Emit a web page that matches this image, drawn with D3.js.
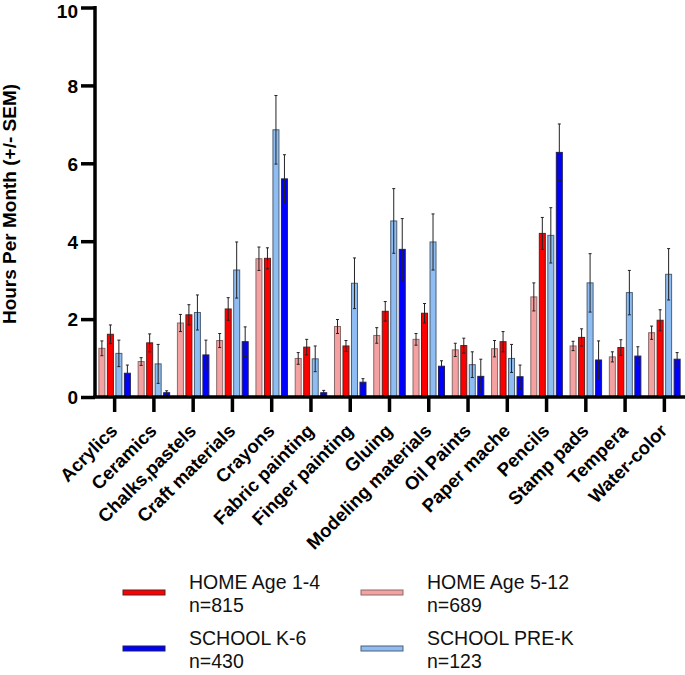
<!DOCTYPE html>
<html>
<head>
<meta charset="utf-8">
<script src="https://cdn.jsdelivr.net/npm/d3@7"></script>
<style>
  html, body { margin: 0; padding: 0; background: #fff; }
  svg { display: block; }
  text { font-family: "Liberation Sans", Arial, sans-serif; }
</style>
</head>
<body>
<svg id="chart" width="685" height="675"></svg>
<script>
const categories = ["Acrylics", "Ceramics", "Chalks,pastels", "Craft materials", "Crayons",
  "Fabric painting", "Finger painting", "Gluing", "Modeling materials", "Oil Paints",
  "Paper mache", "Pencils", "Stamp pads", "Tempera", "Water-color"];

const seriesNames = ["HOME Age 5-12", "HOME Age 1-4", "SCHOOL PRE-K", "SCHOOL K-6"];
const seriesN = ["n=689", "n=815", "n=123", "n=430"];

const home512 = [1.25, 0.91, 1.90, 1.45, 3.55, 0.99, 1.81, 1.58, 1.48, 1.21, 1.24, 2.57, 1.31, 1.03, 1.65];
const home512Sem = [0.19, 0.10, 0.22, 0.18, 0.30, 0.15, 0.18, 0.20, 0.15, 0.17, 0.21, 0.36, 0.12, 0.13, 0.17];
const home14 = [1.61, 1.39, 2.11, 2.26, 3.56, 1.28, 1.31, 2.20, 2.15, 1.32, 1.42, 4.20, 1.53, 1.27, 1.97];
const home14Sem = [0.24, 0.23, 0.26, 0.29, 0.27, 0.20, 0.14, 0.25, 0.25, 0.19, 0.26, 0.41, 0.22, 0.20, 0.27];
const schoolPreK = [1.12, 0.85, 2.17, 3.26, 6.86, 0.98, 2.92, 4.52, 3.98, 0.83, 0.99, 4.15, 2.93, 2.68, 3.15];
const schoolPreKSem = [0.34, 0.50, 0.45, 0.72, 0.88, 0.33, 0.65, 0.83, 0.72, 0.33, 0.36, 0.71, 0.75, 0.57, 0.66];
const schoolK6 = [0.61, 0.11, 1.08, 1.42, 5.60, 0.11, 0.38, 3.79, 0.79, 0.53, 0.52, 6.28, 0.95, 1.05, 0.97];
const schoolK6Sem = [0.21, 0.05, 0.38, 0.38, 0.62, 0.06, 0.09, 0.79, 0.14, 0.44, 0.30, 0.73, 0.49, 0.24, 0.17];

const yTicks = [0, 2, 4, 6, 8, 10];

const fills = ["#f5a1a1", "#ff0000", "#8ebdf3", "#0000ff"];
const strokes = ["#8a6a6a", "#5a2020", "#4f5f73", "#20205a"];

const seriesVals = [home512, home14, schoolPreK, schoolK6];
const seriesSems = [home512Sem, home14Sem, schoolPreKSem, schoolK6Sem];

const svg = d3.select("#chart");

const x0 = d3.scaleBand().domain(categories).range([95, 684]).paddingInner(0).paddingOuter(0);
const innerW = 31.5;
const x1 = d3.scaleBand().domain(d3.range(4))
  .range([(x0.bandwidth() - innerW) / 2, (x0.bandwidth() + innerW) / 2])
  .paddingInner(0.294).paddingOuter(0);
const y = d3.scaleLinear().domain([0, 10]).range([397, 7.5]);

const rows = categories.map((c, i) => ({
  cat: c,
  vals: seriesVals.map((s, k) => ({ k, v: s[i], e: seriesSems[k][i] }))
}));

const groups = svg.append("g").selectAll("g").data(rows).join("g")
  .attr("transform", d => `translate(${x0(d.cat)},0)`);

groups.selectAll("rect").data(d => d.vals).join("rect")
  .attr("x", d => x1(d.k))
  .attr("y", d => y(d.v))
  .attr("width", x1.bandwidth())
  .attr("height", d => y(0) - y(d.v))
  .attr("fill", d => fills[d.k])
  .attr("stroke", d => strokes[d.k])
  .attr("stroke-width", 1);

const eb = groups.selectAll("g.eb").data(d => d.vals).join("g").attr("class", "eb")
  .attr("stroke", "#222").attr("stroke-width", 1);
eb.append("line")
  .attr("x1", d => x1(d.k) + x1.bandwidth() / 2)
  .attr("x2", d => x1(d.k) + x1.bandwidth() / 2)
  .attr("y1", d => y(Math.max(0, d.v - d.e)))
  .attr("y2", d => y(d.v + d.e));
eb.append("line")
  .attr("x1", d => x1(d.k) + x1.bandwidth() / 2 - 1.5)
  .attr("x2", d => x1(d.k) + x1.bandwidth() / 2 + 1.5)
  .attr("y1", d => y(d.v + d.e))
  .attr("y2", d => y(d.v + d.e));
eb.append("line")
  .attr("x1", d => x1(d.k) + x1.bandwidth() / 2 - 1.5)
  .attr("x2", d => x1(d.k) + x1.bandwidth() / 2 + 1.5)
  .attr("y1", d => y(Math.max(0, d.v - d.e)))
  .attr("y2", d => y(Math.max(0, d.v - d.e)));

// Y axis
const yAxis = svg.append("g").attr("transform", "translate(95,0)")
  .call(d3.axisLeft(y).tickValues(yTicks).tickFormat(d3.format("d")).tickSize(14).tickPadding(3));
yAxis.select(".domain").attr("stroke", "#000").attr("stroke-width", 3.5)
  .attr("d", `M0,${y(10) - 1.5}V${y(0)}`);
yAxis.selectAll(".tick line").attr("stroke", "#000").attr("stroke-width", 3.5);
yAxis.selectAll(".tick text").attr("font-size", 19).attr("font-weight", "bold").attr("fill", "#000")
  .attr("dy", d => d === 10 ? "0.52em" : "0.36em");

// X axis
const xAxis = svg.append("g").attr("transform", `translate(0,${y(0)})`)
  .call(d3.axisBottom(x0).tickSize(15).tickFormat(""));
xAxis.select(".domain").attr("stroke", "#000").attr("stroke-width", 3.5)
  .attr("d", `M93.25,0H685`);
xAxis.selectAll(".tick line").attr("stroke", "#000").attr("stroke-width", 3.5);

svg.append("g").selectAll("text").data(categories).join("text")
  .attr("transform", d => `translate(${x0(d) + x0.bandwidth() / 2 + 4},${y(0) + 35}) rotate(-45)`)
  .attr("text-anchor", "end")
  .attr("font-size", 18.5)
  .attr("font-weight", "bold")
  .attr("fill", "#000")
  .text(d => d);

// Y title
svg.append("text")
  .attr("transform", "translate(16,204) rotate(-90)")
  .attr("text-anchor", "middle")
  .attr("font-size", 19)
  .attr("font-weight", "bold")
  .attr("fill", "#000")
  .text("Hours Per Month (+/- SEM)");

// Legend
const legendOrder = [1, 0, 3, 2];
const legendPos = [
  { sx: 123, tx: 189, by: 589 },
  { sx: 361, tx: 427, by: 589 },
  { sx: 123, tx: 189, by: 645 },
  { sx: 361, tx: 427, by: 645 }
];
const leg = svg.append("g").selectAll("g").data(legendOrder).join("g");
leg.append("rect")
  .attr("x", (d, i) => legendPos[i].sx)
  .attr("y", (d, i) => legendPos[i].by + 1)
  .attr("width", 42)
  .attr("height", 5)
  .attr("fill", d => fills[d])
  .attr("stroke", d => strokes[d])
  .attr("stroke-width", 1);
leg.append("text")
  .attr("x", (d, i) => legendPos[i].tx)
  .attr("y", (d, i) => legendPos[i].by)
  .attr("font-size", 19.5)
  .attr("fill", "#111")
  .text(d => seriesNames[d]);
leg.append("text")
  .attr("x", (d, i) => legendPos[i].tx)
  .attr("y", (d, i) => legendPos[i].by + 23)
  .attr("font-size", 19.5)
  .attr("fill", "#111")
  .text(d => seriesN[d]);
</script>
</body>
</html>
